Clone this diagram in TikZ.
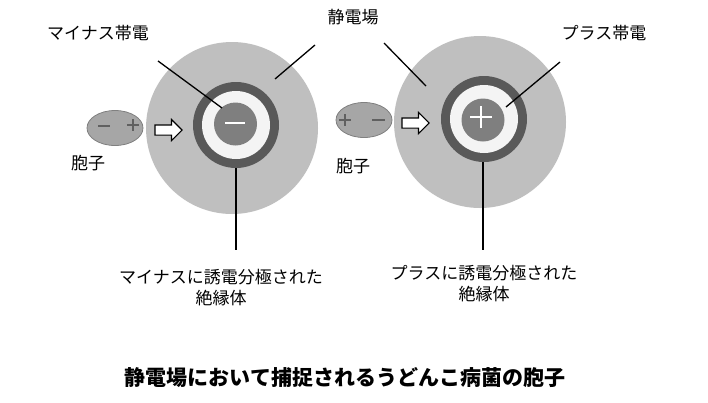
\documentclass[tikz,border=0pt]{standalone}
\usepackage{fontspec}
\newfontfamily\jp{Noto Sans CJK JP}
\usetikzlibrary{shapes.geometric,shapes.arrows}
\definecolor{fieldgray}{HTML}{BFBFBF}
\definecolor{ringgray}{HTML}{595959}
\definecolor{whitering}{HTML}{F4F4F4}
\definecolor{diskgray}{HTML}{7F7F7F}
\definecolor{sporegray}{HTML}{A6A6A6}
\definecolor{sporeline}{HTML}{808080}
\definecolor{signgray}{HTML}{606060}
\tikzset{
  field/.style={circle, fill=fieldgray, minimum size=172pt, inner sep=0pt},
  ring/.style={circle, fill=ringgray, minimum size=86pt, inner sep=0pt},
  wring/.style={circle, fill=whitering, minimum size=68pt, inner sep=0pt},
  disk/.style={circle, fill=diskgray, minimum size=43pt, inner sep=0pt},
  spore/.style={ellipse, fill=sporegray, draw=sporeline, line width=0.8pt, minimum width=56pt, minimum height=35pt, inner sep=0pt},
  push/.style={single arrow, draw=black, fill=white, line width=1.1pt, minimum height=27pt, inner xsep=0pt, inner ysep=4.5pt, single arrow head extend=5.5pt, single arrow tip angle=90},
  lbl/.style={font=\jp\fontsize{17}{21}\selectfont, inner sep=0pt, align=center},
  leader/.style={line width=1.3pt, black},
  sign/.style={line width=1.1pt, signgray},
  wsign/.style={line width=2pt, white}
}
\begin{document}
\begin{tikzpicture}[x=1pt,y=-1pt]
\useasboundingbox[fill=white] (0,0) rectangle (708,402);
% left assembly
\node[field] (fieldL) at (232,128) {};
\node[ring] (ringL) at (236,125) {};
\node[wring] (wringL) at (236,125) {};
\node[disk] (diskL) at (235.5,124) {};
\draw[wsign] (225,123) -- (245,123);
\node[spore] (sporeL) at (115,128) {};
\draw[sign] (98,126) -- (110,126);
\draw[sign] (127,125) -- (139,125) (133,119) -- (133,131);
\node[push] (pushL) at (166,130) {};
% right assembly
\node[field] (fieldR) at (480,122) {};
\node[ring] (ringR) at (484,119) {};
\node[wring] (wringR) at (484,119) {};
\node[disk] (diskR) at (483,120) {};
\draw[wsign] (470,117) -- (492,117) (481,106) -- (481,128);
\node[spore] (sporeR) at (364,120) {};
\draw[sign] (339,120) -- (351,120) (345,114) -- (345,126);
\draw[sign] (372,120) -- (385,120);
\node[push] (pushR) at (413,123) {};
% labels
\node[lbl] (minusCh) at (98,33) {マイナス帯電};
\node[lbl] (field) at (353,17) {静電場};
\node[lbl] (plusCh) at (604,33) {プラス帯電};
\node[lbl] (sporeLabL) at (88,163) {胞子};
\node[lbl] (sporeLabR) at (353,166) {胞子};
\node[lbl] (insL) at (221,288) {マイナスに誘電分極された\\絶縁体};
\node[lbl] (insR) at (484,284) {プラスに誘電分極された\\絶縁体};
\node[font=\jp\bfseries\fontsize{21}{25}\selectfont, inner sep=0pt] (title) at (345,378) {静電場において捕捉されるうどんこ病菌の胞子};
% leader lines
\coordinate (mcS) at (158,61);
\coordinate (mcE) at (222,108);
\coordinate (fS1) at (315,45);
\coordinate (fE1) at (275,79);
\coordinate (fS2) at (384,43);
\coordinate (fE2) at (426,86);
\coordinate (pcS) at (560,62);
\coordinate (pcE) at (506,107);
\coordinate (vL) at (236,250);
\coordinate (vR) at (483,250);
\draw[leader] (mcS) -- (mcE);
\draw[leader] (fS1) -- (fE1);
\draw[leader] (fS2) -- (fE2);
\draw[leader] (pcS) -- (pcE);
\draw[leader] (ringL.south) -- (vL);
\draw[leader] (ringR.south -| vR) -- (vR);
\end{tikzpicture}
\end{document}
